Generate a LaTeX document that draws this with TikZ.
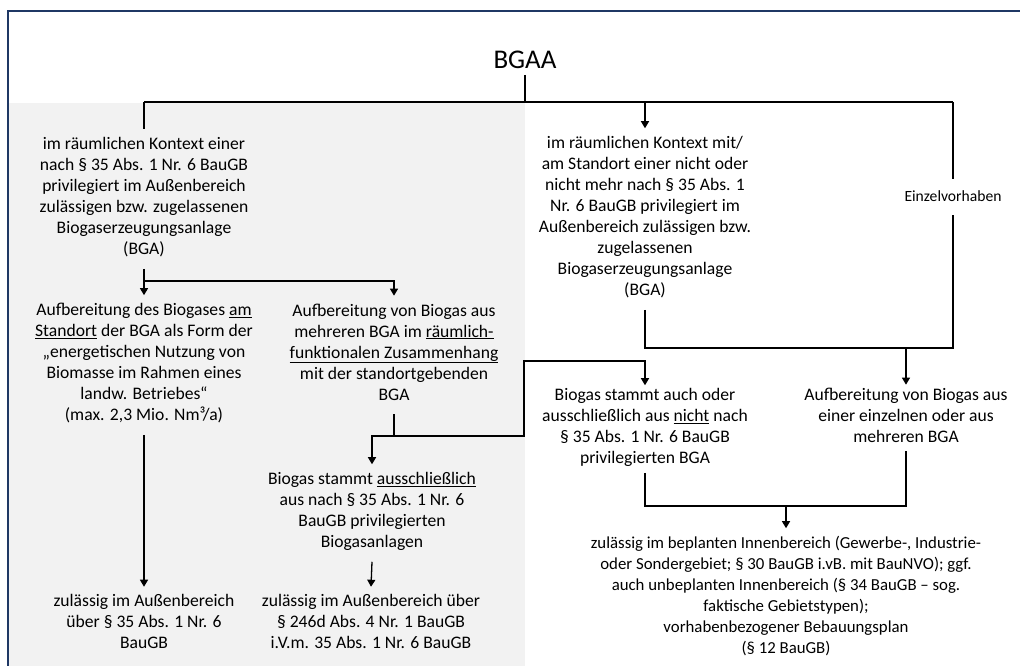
\documentclass[tikz,border=0pt]{standalone}
\usepackage{fontspec}
\setmainfont{Carlito}
\usetikzlibrary{arrows.meta}
\definecolor{frameblue}{RGB}{31,56,100}
\definecolor{panelgray}{RGB}{242,242,242}
\newcommand{\uln}[1]{\underline{#1}}
\tikzset{
  ln/.style={draw=black,line width=1.3pt},
  arr/.style={ln,-{Triangle[width=8pt,length=7pt]}},
  txt/.style={align=center,inner sep=0pt,outer ysep=8pt,
    font=\fontsize{17.6}{21}\selectfont,
    execute at begin node=\strut, execute at end node=\strut},
}
\begin{document}
\begin{tikzpicture}[x=1pt,y=-1pt]
\useasboundingbox (0,0) rectangle (1020,666);
% panel and frame
\fill[panelgray] (9,103) rectangle (525,666);
\draw[frameblue,line width=1.6pt] (8,666) -- (8,11) -- (1020,11);

% nodes
\node[font=\fontsize{27}{30}\selectfont,inner sep=0pt,outer ysep=6pt] (bgaa) at (525,60) {BGAA};
\node[txt] (n1) at (144,199) {im räumlichen Kontext einer\\nach § 35 Abs. 1 Nr. 6 BauGB\\privilegiert im Außenbereich\\zulässigen bzw. zugelassenen\\Biogaserzeugungsanlage\\(BGA)};
\node[txt] (n3) at (645,219) {im räumlichen Kontext mit/\\am Standort einer nicht oder\\nicht mehr nach § 35 Abs. 1\\Nr. 6 BauGB privilegiert im\\Außenbereich zulässigen bzw.\\zugelassenen\\Biogaserzeugungsanlage\\(BGA)};
\node[txt,font=\fontsize{15.6}{20}\selectfont] (ein) at (953,197) {Einzelvorhaben};
\node[txt] (n2a) at (144,365) {Aufbereitung des Biogases \uln{am}\\\uln{Standort} der BGA als Form der\\„energetischen Nutzung von\\Biomasse im Rahmen eines\\landw. Betriebes“\\(max. 2,3 Mio. Nm³/a)};
\node[txt] (n2b) at (394,355) {Aufbereitung von Biogas aus\\mehreren BGA im \uln{räumlich-}\\\uln{funktionalen Zusammenhang}\\mit der standortgebenden\\BGA};
\node[txt] (n6) at (372,513) {Biogas stammt \uln{ausschließlich}\\aus nach § 35 Abs. 1 Nr. 6\\BauGB privilegierten\\Biogasanlagen};
\node[txt,outer ysep=3pt] (n4) at (645,429) {Biogas stammt auch oder\\ausschließlich aus \uln{nicht} nach\\§ 35 Abs. 1 Nr. 6 BauGB\\privilegierten BGA};
\node[txt,outer ysep=3pt] (n5) at (906,418) {Aufbereitung von Biogas aus\\einer einzelnen oder aus\\mehreren BGA};
\node[txt] (n8) at (144,625) {zulässig im Außenbereich\\über § 35 Abs. 1 Nr. 6\\BauGB};
\node[txt] (n9) at (371,625) {zulässig im Außenbereich über\\§ 246d Abs. 4 Nr. 1 BauGB\\i.V.m. 35 Abs. 1 Nr. 6 BauGB};
\node[txt,font=\fontsize{16.8}{21}\selectfont] (n7) at (786,598) {zulässig im beplanten Innenbereich (Gewerbe-, Industrie-\\oder Sondergebiet; § 30 BauGB i.vB. mit BauNVO); ggf.\\auch unbeplanten Innenbereich (§ 34 BauGB – sog.\\faktische Gebietstypen);\\vorhabenbezogener Bebauungsplan\\(§ 12 BauGB)};

% junctions
\coordinate (jt) at (525,102);
\coordinate (j1) at (144,281);
\coordinate (j2) at (394,436);
\coordinate (k1) at (524,361);
\coordinate (j4) at (906,348);
\coordinate (j5) at (786,506);

% connectors
\draw[ln] (bgaa.south) -- (jt);
\draw[ln] (n1.north |- jt) -- (ein.north |- jt);
\draw[ln] (n1.north |- jt) -- (n1.north);
\draw[arr] (n3.north |- jt) -- (n3.north);
\draw[ln] (ein.north |- jt) -- (ein.north);

\draw[arr] (n1.south) -- (n2a.north);
\draw[arr] (j1) -| (n2b.north);
\draw[arr] (n2a.south) -- (n8.north);
\draw[ln] (n2b.south) -- (j2);
\draw[arr] (j2) -| (n6.north);
\draw[arr] (j2) -| (k1) -| (n4.north);
\draw[arr] (n6.south) -- (n9.north);

\draw[ln] (n3.south) |- (ein.south |- j4) -- (ein.south);
\draw[arr] (j4) -- (n5.north);
\draw[ln] (n4.south) |- (n5.south |- j5) -- (n5.south);
\draw[arr] (j5) -- (n7.north);
\end{tikzpicture}
\end{document}
